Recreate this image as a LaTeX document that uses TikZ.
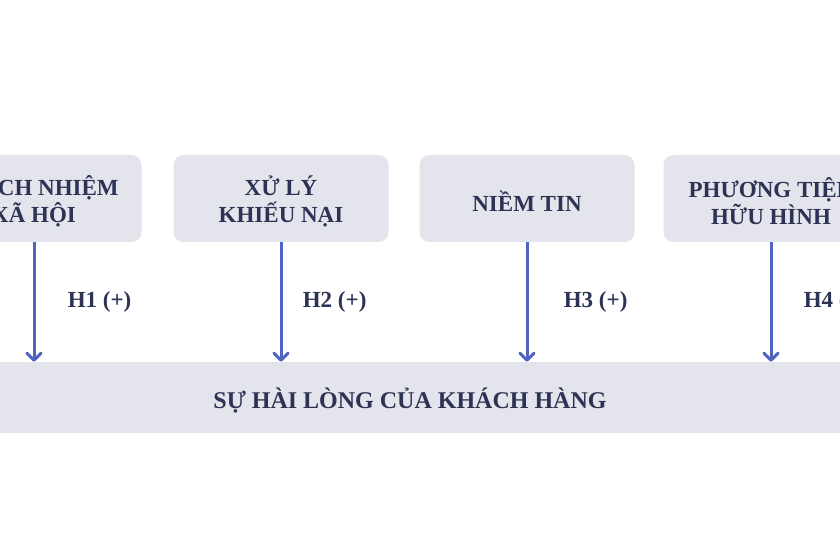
\documentclass[tikz,border=0pt]{standalone}
\usepackage{fontspec}
\setmainfont{Liberation Serif}
\usepackage{xcolor}
\usetikzlibrary{positioning, arrows.meta}
\definecolor{boxfill}{HTML}{E4E5EC}
\definecolor{navy}{HTML}{2C3354}
\definecolor{linkblue}{HTML}{4F63C0}
\tikzset{
  factor/.style={fill=boxfill, rounded corners=10pt, minimum width=215pt,
    minimum height=87pt},
  factortext/.style={align=center, text=navy, yshift=-3pt,
    font=\fontsize{23}{27}\selectfont\bfseries},
  outcome/.style={fill=boxfill, minimum width=900pt, minimum height=71pt},
  outcometext/.style={text=navy, yshift=-3.5pt,
    font=\fontsize{24}{28}\selectfont\bfseries},
  link/.style={draw=linkblue, line width=3pt,
    -{Straight Barb[length=7pt, width=14pt, line cap=round, line join=round]}},
  hyp/.style={text=navy, font=\fontsize{23}{27}\selectfont\bfseries}
}

\begin{document}
\begin{tikzpicture}[x=1pt, y=1pt]
  \clip (0,0) rectangle (840,540);
  \fill [white] (0,0) rectangle (840,540);

  \node [factor, label={[factortext]center:{TRÁCH NHIỆM\\XÃ HỘI}}] at (34,341.5) (csr) {};
  \node [factor, label={[factortext]center:{XỬ LÝ\\KHIẾU NẠI}}] at (281,341.5) (cmp) {};
  \node [factor, label={[factortext]center:{NIỀM TIN}}] at (527,341.5) (trs) {};
  \node [factor, label={[factortext]center:{PHƯƠNG TIỆN\\HỮU HÌNH}}] at (771,341.5) (tng) {};

  \node [outcome, label={[outcometext, xshift=-10pt]center:{SỰ HÀI LÒNG CỦA KHÁCH HÀNG}}] at (420,142.5) (sat) {};

  \draw [link] (csr) -- (csr |- sat.north) node [hyp, midway, right=29pt] {H1 (+)};
  \draw [link] (cmp) -- (cmp |- sat.north) node [hyp, midway, right=17pt] {H2 (+)};
  \draw [link] (trs) -- (trs |- sat.north) node [hyp, midway, right=32pt] {H3 (+)};
  \draw [link] (tng) -- (tng |- sat.north) node [hyp, midway, right=28pt] {H4 (+)};
\end{tikzpicture}
\end{document}
